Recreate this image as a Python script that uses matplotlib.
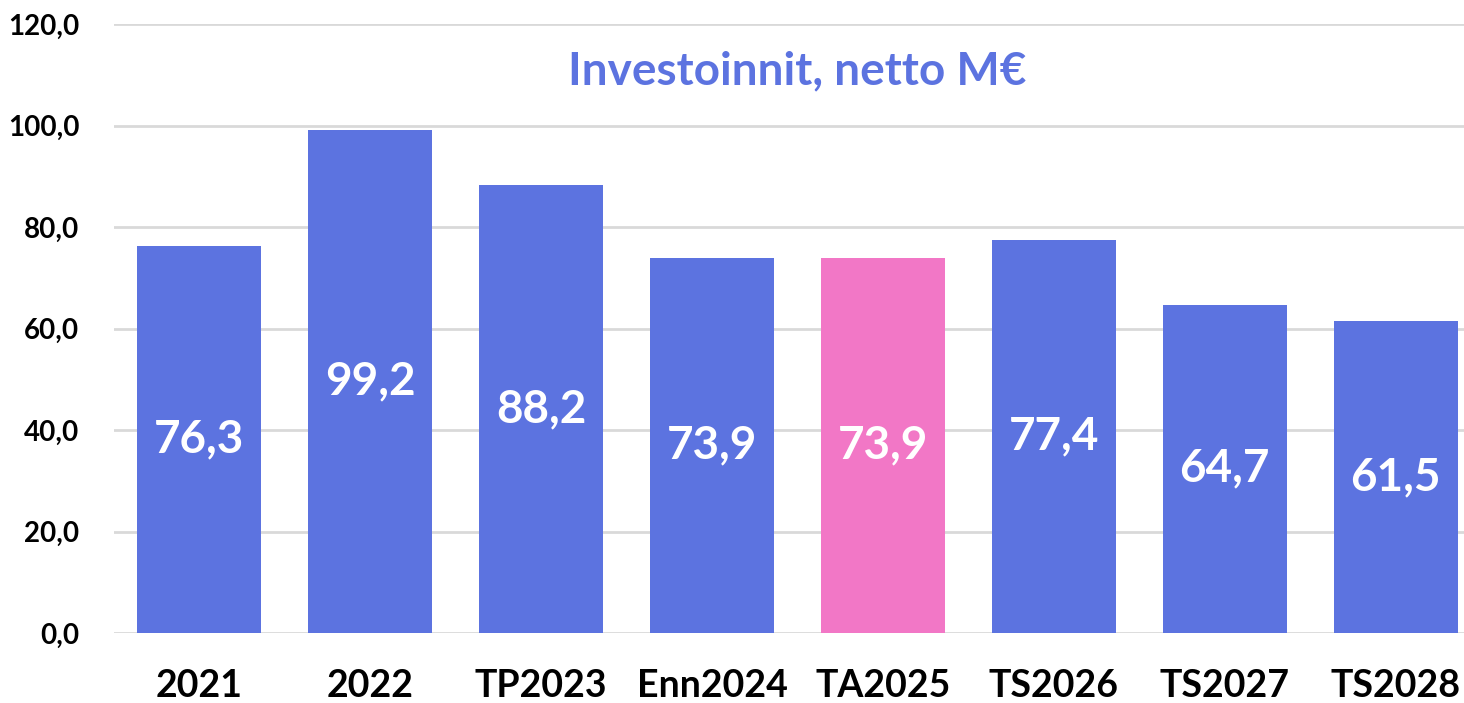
import matplotlib.pyplot as plt

categories = ["2021", "2022", "TP2023", "Enn2024", "TA2025", "TS2026", "TS2027", "TS2028"]
values = [76.3, 99.2, 88.2, 73.9, 73.9, 77.4, 64.7, 61.5]
labels = ["76,3", "99,2", "88,2", "73,9", "73,9", "77,4", "64,7", "61,5"]
highlight = "TA2025"

blue = "#5C73E0"
pink = "#F277C6"
colors = [pink if c == highlight else blue for c in categories]

fig = plt.figure(figsize=(14.64, 7.03), dpi=100)
ax = fig.add_axes([114 / 1464, 1 - 633 / 703, (1481 - 114) / 1464, (633 - 24) / 703])

x = range(len(categories))
bars = ax.bar(x, values, width=0.725, color=colors, zorder=2)

for b, lab in zip(bars, labels):
    ax.text(b.get_x() + b.get_width() / 2, b.get_height() / 2, lab,
            ha="center", va="center", color="white", fontsize=33,
            fontweight="bold", family="Lato", zorder=3)

ax.set_xlim(-0.5, len(categories) - 0.5)
ax.set_ylim(0, 120)
ax.set_yticks(range(0, 121, 20))
ax.set_yticklabels(["{:.1f}".format(v).replace(".", ",") for v in range(0, 121, 20)],
                   fontsize=20, fontweight="bold", family="Lato")
ax.set_xticks(list(x))
ax.set_xticklabels(categories, fontsize=27, fontweight="bold", family="Lato")
ax.tick_params(axis="both", length=0)
ax.tick_params(axis="y", pad=25)
ax.tick_params(axis="x", pad=26)
ax.yaxis.grid(True, color="#D9D9D9", linewidth=2, zorder=0)
ax.set_axisbelow(True)
for s in ax.spines.values():
    s.set_visible(False)

ax.text(3.5, 110.6, "Investoinnit, netto M€", ha="center", va="center",
        color=blue, fontsize=33, fontweight="bold", family="Lato")

fig.savefig("out.png", dpi=100)
